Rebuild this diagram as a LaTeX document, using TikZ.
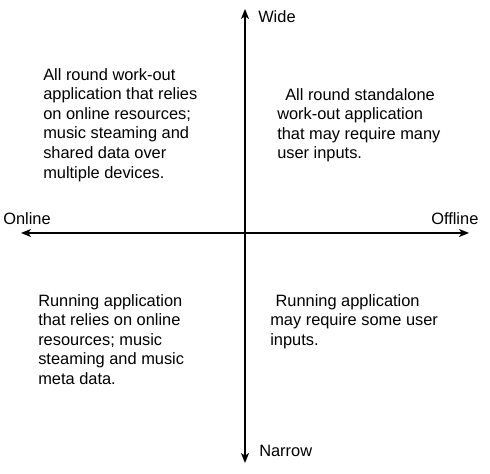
\documentclass[tikz,border=0pt]{standalone}
\usepackage{fontspec}
\setmainfont{Liberation Sans}
\usetikzlibrary{arrows.meta}

\tikzset{
	axislabel/.style={anchor=west, inner sep=0pt, font=\fontsize{12.3}{14.7}\selectfont},
	quadtext/.style={anchor=north west, align=left, inner sep=0pt, font=\fontsize{12.3}{14.7}\selectfont},
	axis/.style={line width=1pt, -{Stealth[length=7.5pt,width=6pt,inset=2pt]}}
}

\begin{document}
\begin{tikzpicture}[x=0.75pt, y=-0.75pt]
		\useasboundingbox[fill=white] (0, 0) rectangle (490, 474);
		
		\coordinate (centre) at (245, 233);
		\coordinate (top) at (245, 9);
		\coordinate (bottom) at (245, 463);
		\coordinate (left) at (21, 233);
		\coordinate (right) at (469, 233);
		
		\node[axislabel] (wide) at (258, 17) {Wide};
		\node[axislabel] (narrow) at (259, 451) {Narrow};
		\node[axislabel] (online) at (3, 219) {Online};
		\node[axislabel] (offline) at (431, 219) {Offline};
		
		\node[quadtext] (onlinewide) at (43, 68) {All round work-out\\application that relies\\on online resources;\\music steaming and\\shared data over\\multiple devices.};
		\node[quadtext] (offlinewide) at (277, 88) {\hspace*{6pt}All round standalone\\work-out application\\that may require many\\user inputs.};
		\node[quadtext] (onlinenarrow) at (38, 294) {Running application\\that relies on online\\resources; music\\steaming and music\\meta data.};
		\node[quadtext] (offlinenarrow) at (270, 294) {\hspace*{4pt}Running application\\may require some user\\inputs.};
		
		\draw [axis] (centre) -- (top);
		\draw [axis] (centre) -- (bottom);
		\draw [axis] (centre) -- (left);
		\draw [axis] (centre) -- (right);
		
	\end{tikzpicture}
\end{document}
